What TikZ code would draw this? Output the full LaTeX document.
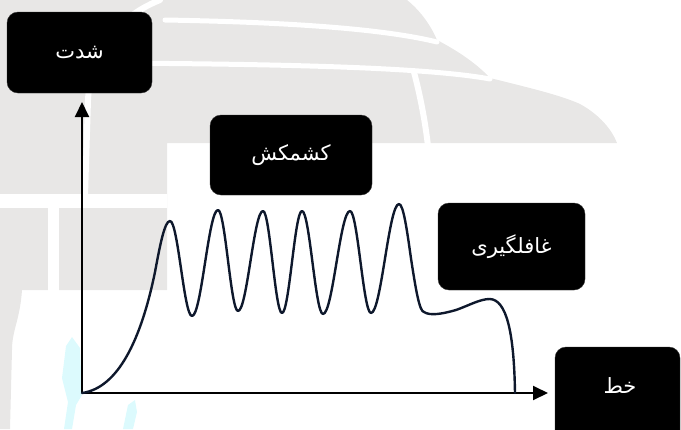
\documentclass[tikz,border=0pt]{standalone}
\usepackage{fontspec}
\usetikzlibrary{arrows.meta}
\newfontfamily\arabicfont[Script=Arabic]{DejaVu Sans}
\TeXXeTstate=1
\definecolor{wmgray}{RGB}{232,231,230}
\definecolor{wmcyan}{RGB}{220,250,253}
\definecolor{curvecol}{RGB}{14,24,44}
\tikzset{
  boxfont/.style={font=\arabicfont\fontsize{21}{24}\selectfont},
  box/.style={fill=black, draw=black!80, rounded corners=11pt, text=white, inner sep=0pt, boxfont},
  axis/.style={line width=2pt, draw=black, -{Triangle[length=15pt,width=14pt]}},
  wave/.style={line width=2.4pt, draw=curvecol, line join=round, line cap=round},
  wmline/.style={draw=white, line cap=round}
}
\begin{document}
\begin{tikzpicture}[x=1pt,y=-1pt]
\useasboundingbox (0,0) rectangle (681,429);
\clip (0,0) rectangle (681,429);
% watermark
\fill[wmgray] (0,0) -- (407,0) .. controls (422,12) and (432,28) .. (437,40)
  .. controls (460,52) and (478,65) .. (490,78)
  .. controls (530,88) and (560,95) .. (580,104)
  .. controls (600,115) and (612,130) .. (617,143)
  -- (167,143) -- (167,290) -- (22,290) .. controls (20,320) and (12,330) .. (12,350) -- (10,429) -- (0,429) -- cycle;
\draw[wmline, line width=6pt] (160,0) .. controls (110,20) and (90,60) .. (88,100) -- (85,196);
\draw[wmline, line width=5pt] (165,20) .. controls (280,22) and (380,28) .. (437,42);
\draw[wmline, line width=5pt] (110,63) .. controls (250,64) and (420,66) .. (490,79);
\draw[wmline, line width=6pt] (414,72) .. controls (420,95) and (425,120) .. (428,146);
\draw[white, line width=14pt] (0,200.5) -- (167,200.5);
\draw[white, line width=11pt] (53.5,205) -- (53.5,292);
\fill[wmcyan] (66,346) -- (72,337) -- (80,348) -- (82,395) -- (76,405) -- (72,429) -- (64,429) -- (68,402) -- (62,378) -- cycle;
\fill[wmcyan] (128,405) -- (135,400) -- (137,412) -- (133,429) -- (123,429) -- cycle;
% boxes
\node[box, minimum width=145pt, minimum height=81pt] (shedat) at (79.5,52.5) {\beginR شدت\endR};
\node[box, minimum width=162pt, minimum height=80pt] (keshmakesh) at (291,155) {\beginR کشمکش\endR};
\node[box, minimum width=147pt, minimum height=87pt] (ghafel) at (511.5,246.5) {\beginR غافلگیری\endR};
\node[box, minimum width=125pt, minimum height=100pt] (khat) at (617.5,397) {};
\node[text=white, boxfont] (khattext) at (620,386) {\beginR خط\endR};
% axes
\coordinate (O) at (82,393);
\coordinate (ytip) at (82,102);
\coordinate (xtip) at (548,393);
\draw[axis] (O) -- (ytip);
\draw[axis] (O) -- (xtip);
% curve
\draw[wave] (O) .. controls (118,388) and (141,340) .. (155,272) sin (170,221)
  cos (181,268.5) sin (192,316) cos (205,263) sin (218,210)
  cos (228,260.5) sin (238,311) cos (250.5,261) sin (263,211)
  cos (272.5,262) sin (282,313) cos (292,262) sin (302,211)
  cos (312.5,262.5) sin (323,314) cos (336.5,262.5) sin (350,211)
  cos (360.5,262) sin (371,313) cos (385,258.5) sin (399,204)
  cos (411,258.5) sin (424,312)
  .. controls (430,316) and (442,314) .. (456,310)
  .. controls (470,305) and (480,299) .. (490,299)
  .. controls (506,300) and (514,330) .. (515,393);
\end{tikzpicture}
\end{document}
